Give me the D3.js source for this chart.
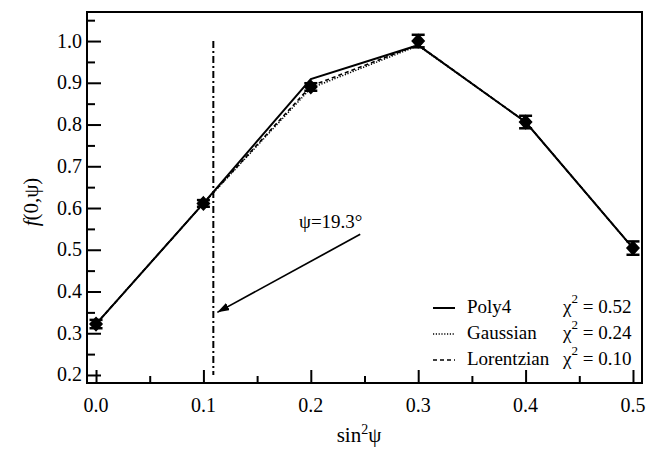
<!DOCTYPE html>
<html>
<head>
<meta charset="utf-8">
<script src="https://cdn.jsdelivr.net/npm/d3@7"></script>
<style>
  html, body { margin: 0; padding: 0; background: #fff; }
  svg { display: block; }
  text { font-family: "Liberation Serif", "DejaVu Serif", serif; fill: #000; }
</style>
</head>
<body>
<div id="chart"></div>
<script>
// Measured points f(0,psi) vs sin^2(psi) with error bars
const sin2psi = [0.0, 0.1, 0.2, 0.3, 0.4, 0.5];
const measured = [0.322, 0.611, 0.890, 1.000, 0.806, 0.504];
const errors = [0.010, 0.008, 0.009, 0.015, 0.015, 0.016];

// Fitted curves evaluated at the same abscissae
const poly4 = [0.322, 0.611, 0.909, 0.990, 0.806, 0.504];
const gaussian = [0.322, 0.611, 0.887, 0.989, 0.806, 0.504];
const lorentzian = [0.322, 0.611, 0.892, 0.991, 0.806, 0.504];

const fitNames = ["Poly4", "Gaussian", "Lorentzian"];
const chiSquared = ["0.52", "0.24", "0.10"];

const xTicks = [0.0, 0.1, 0.2, 0.3, 0.4, 0.5];
const xMinor = [0.05, 0.15, 0.25, 0.35, 0.45];
const yTicks = [0.2, 0.3, 0.4, 0.5, 0.6, 0.7, 0.8, 0.9, 1.0];
const yMinor = [0.25, 0.35, 0.45, 0.55, 0.65, 0.75, 0.85, 0.95, 1.05];

// Critical tilt angle marker
const psiCrit = 19.3;
const psiLineX = Math.pow(Math.sin(psiCrit * Math.PI / 180), 2);
const psiLineY = [0.2, 1.0];
const arrowFrom = [0.246, 0.537];
const arrowTo = [0.113, 0.350];

const W = 660, H = 451;
const plotLeft = 87, plotRight = 642, plotTop = 12, plotBottom = 383;

const svg = d3.select("#chart").append("svg").attr("width", W).attr("height", H);

const x = d3.scaleLinear().domain([-0.0084, 0.5084]).range([plotLeft, plotRight]);
const y = d3.scaleLinear().domain([0.1808, 1.0696]).range([plotBottom, plotTop]);

// Inward ticks, bottom and left
const axB = svg.append("g").attr("transform", `translate(0,${plotBottom})`);
axB.call(d3.axisTop(x).tickValues(xTicks).tickSize(13).tickFormat(""));
axB.append("g").call(d3.axisTop(x).tickValues(xMinor).tickSize(7).tickFormat(""));
const axL = svg.append("g").attr("transform", `translate(${plotLeft},0)`);
axL.call(d3.axisRight(y).tickValues(yTicks).tickSize(14).tickFormat(""));
axL.append("g").call(d3.axisRight(y).tickValues(yMinor).tickSize(8).tickFormat(""));
svg.selectAll(".domain").remove();
svg.selectAll(".tick line").attr("stroke", "#000").attr("stroke-width", 2);

// Tick labels
svg.append("g").selectAll("text").data(xTicks).join("text")
  .attr("x", d => x(d)).attr("y", 412)
  .attr("text-anchor", "middle").attr("font-size", 20)
  .text(d => d.toFixed(1));
svg.append("g").selectAll("text").data(yTicks).join("text")
  .attr("x", 82).attr("y", d => y(d) + 6.5)
  .attr("text-anchor", "end").attr("font-size", 20)
  .text(d => d.toFixed(1));

// Frame
svg.append("rect").attr("x", plotLeft).attr("y", plotTop)
  .attr("width", plotRight - plotLeft).attr("height", plotBottom - plotTop)
  .attr("fill", "none").attr("stroke", "#000").attr("stroke-width", 2);

// Axis titles
svg.append("text").attr("x", 359).attr("y", 442).attr("text-anchor", "middle")
  .attr("font-size", 21)
  .html('sin<tspan dy="-8" font-size="14">2</tspan><tspan dy="8">ψ</tspan>');
svg.append("text").attr("transform", "translate(38,202) rotate(-90)")
  .attr("text-anchor", "middle").attr("font-size", 21)
  .html('<tspan font-style="italic">f</tspan>(0,ψ)');

// Fit lines
const line = d3.line().x((d, i) => x(sin2psi[i])).y(d => y(d));
const fitStyles = [
  { data: poly4, dash: null, width: 2 },
  { data: gaussian, dash: "1.2,1.6", width: 1.5 },
  { data: lorentzian, dash: "4,3", width: 1.6 }
];
fitStyles.forEach(s => {
  svg.append("path").datum(s.data).attr("d", line)
    .attr("fill", "none").attr("stroke", "#000")
    .attr("stroke-width", s.width)
    .attr("stroke-dasharray", s.dash);
});

// Error bars
const eb = svg.append("g").attr("stroke", "#000").attr("stroke-width", 2.5);
sin2psi.forEach((sx, i) => {
  const cx = x(sx), y1 = y(measured[i] + errors[i]), y2 = y(measured[i] - errors[i]);
  eb.append("line").attr("x1", cx).attr("x2", cx).attr("y1", y1).attr("y2", y2);
  eb.append("line").attr("x1", cx - 6.5).attr("x2", cx + 6.5).attr("y1", y1).attr("y2", y1);
  eb.append("line").attr("x1", cx - 6.5).attr("x2", cx + 6.5).attr("y1", y2).attr("y2", y2);
});

// Diamond markers
svg.append("g").selectAll("path").data(measured).join("path")
  .attr("transform", (d, i) => `translate(${x(sin2psi[i])},${y(d)})`)
  .attr("d", "M0,-6.5L6,0L0,6.5L-6,0Z")
  .attr("fill", "#000").attr("stroke", "#000").attr("stroke-width", 1.5);

// Dash-dot line at psi = 19.3 deg
svg.append("line")
  .attr("x1", x(psiLineX)).attr("x2", x(psiLineX))
  .attr("y1", y(psiLineY[1])).attr("y2", y(psiLineY[0]))
  .attr("stroke", "#000").attr("stroke-width", 2)
  .attr("stroke-dasharray", "7,3,2,3");

// Arrow with label
svg.append("defs").append("marker").attr("id", "head")
  .attr("viewBox", "0 0 12 8").attr("refX", 12).attr("refY", 4)
  .attr("markerWidth", 12).attr("markerHeight", 8)
  .attr("markerUnits", "userSpaceOnUse").attr("orient", "auto")
  .append("path").attr("d", "M0,0L12,4L0,8Z").attr("fill", "#000");
svg.append("line")
  .attr("x1", x(arrowFrom[0])).attr("y1", y(arrowFrom[1]))
  .attr("x2", x(arrowTo[0])).attr("y2", y(arrowTo[1]))
  .attr("stroke", "#000").attr("stroke-width", 1.7)
  .attr("marker-end", "url(#head)");
svg.append("text").attr("x", 299).attr("y", 228).attr("font-size", 19)
  .text(`ψ=${psiCrit}°`);

// Legend
const lg = svg.append("g");
fitNames.forEach((name, i) => {
  const ly = 313 + i * 26;
  lg.append("line").attr("x1", 433).attr("x2", 455)
    .attr("y1", ly - 5).attr("y2", ly - 5)
    .attr("stroke", "#000").attr("stroke-width", fitStyles[i].width)
    .attr("stroke-dasharray", fitStyles[i].dash);
  lg.append("text").attr("x", 467).attr("y", ly).attr("font-size", 19).text(name);
  lg.append("text").attr("x", 563).attr("y", ly).attr("font-size", 19)
    .html(`χ<tspan dy="-10" font-size="13">2</tspan><tspan dy="10"> = ${chiSquared[i]}</tspan>`);
});
</script>
</body>
</html>
